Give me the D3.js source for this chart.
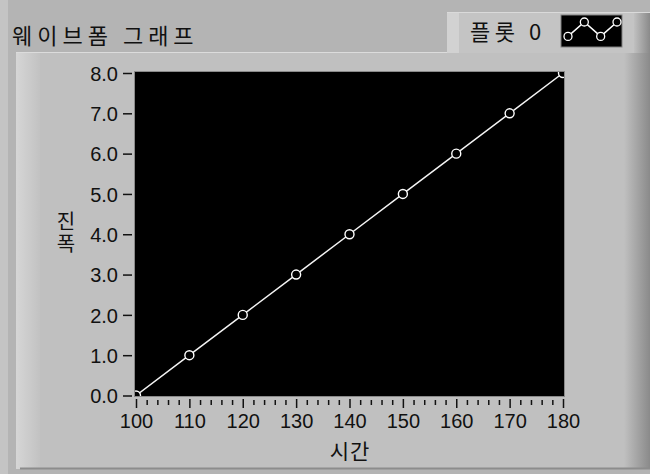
<!DOCTYPE html>
<html>
<head>
<meta charset="utf-8">
<script src="https://cdn.jsdelivr.net/npm/d3@7"></script>
<style>
  body { margin: 0; background: #b4b4b4; }
  svg { display: block; }
</style>
</head>
<body>
<script>
var W = 650, H = 474;

var times = [100, 110, 120, 130, 140, 150, 160, 170, 180];
var amplitudes = [0, 1, 2, 3, 4, 5, 6, 7, 8];
var xTickLabels = ["100", "110", "120", "130", "140", "150", "160", "170", "180"];
var yTickLabels = ["0.0", "1.0", "2.0", "3.0", "4.0", "5.0", "6.0", "7.0", "8.0"];
var legendPoints = [[0, 0.2], [1, 1], [2, 0.2], [3, 1]];

var plot = {left: 135, top: 72, right: 564, bottom: 396};

var krFont = "'Noto Sans CJK KR', sans-serif",
    numFont = "'Liberation Sans', Arial, sans-serif";

var svg = d3.select("body").append("svg")
    .attr("width", W)
    .attr("height", H);

var defs = svg.append("defs");

var rightGrad = defs.append("linearGradient").attr("id", "rightShade")
    .attr("x1", 0).attr("x2", 1).attr("y1", 0).attr("y2", 0);
rightGrad.append("stop").attr("offset", 0).attr("stop-color", "#c0c0c0");
rightGrad.append("stop").attr("offset", 1).attr("stop-color", "#8a8a8a");

var leftGrad = defs.append("linearGradient").attr("id", "leftShade")
    .attr("x1", 0).attr("x2", 1).attr("y1", 0).attr("y2", 0);
leftGrad.append("stop").attr("offset", 0).attr("stop-color", "#d6d6d6");
leftGrad.append("stop").attr("offset", 1).attr("stop-color", "#c2c2c2");

defs.append("clipPath").attr("id", "plotClip")
    .append("rect")
    .attr("x", plot.left).attr("y", plot.top)
    .attr("width", plot.right - plot.left)
    .attr("height", plot.bottom - plot.top);

// background / frame
svg.append("rect")
    .attr("x", 0).attr("y", 0).attr("width", W).attr("height", H)
    .attr("fill", "#b4b4b4");
svg.append("rect")
    .attr("x", 0).attr("y", 0).attr("width", 8).attr("height", H)
    .attr("fill", "#c4c4c4");

// graph body panel
svg.append("rect")
    .attr("x", 16).attr("y", 52).attr("width", W - 16).attr("height", 417)
    .attr("fill", "#c0c0c0");
svg.append("rect")
    .attr("x", 16).attr("y", 52).attr("width", 24).attr("height", 417)
    .attr("fill", "url(#leftShade)");
svg.append("rect")
    .attr("x", 624).attr("y", 52).attr("width", 26).attr("height", 417)
    .attr("fill", "url(#rightShade)");
svg.append("line")
    .attr("x1", 16).attr("x2", W).attr("y1", 52.5).attr("y2", 52.5)
    .attr("stroke", "#dcdcdc").attr("stroke-width", 1);
svg.append("line")
    .attr("x1", 20).attr("x2", W).attr("y1", 468.5).attr("y2", 468.5)
    .attr("stroke", "#8c8c8c").attr("stroke-width", 2);

// title
svg.append("text")
    .attr("x", 12).attr("y", 44)
    .attr("font-family", krFont)
    .attr("font-size", 22)
    .attr("letter-spacing", 5)
    .attr("fill", "#111")
    .text("웨이브폼 그래프");

// legend
var legend = svg.append("g");
legend.append("rect")
    .attr("x", 447).attr("y", 12).attr("width", 190).attr("height", 41)
    .attr("fill", "#c4c4c4");
legend.append("rect")
    .attr("x", 447).attr("y", 12).attr("width", 12).attr("height", 41)
    .attr("fill", "#d2d2d2");
legend.append("rect")
    .attr("x", 634).attr("y", 12).attr("width", 16).attr("height", 41)
    .attr("fill", "url(#rightShade)");
legend.append("line")
    .attr("x1", 447).attr("x2", 650).attr("y1", 12.5).attr("y2", 12.5)
    .attr("stroke", "#dadada");
legend.append("text")
    .attr("x", 470).attr("y", 40)
    .attr("font-family", krFont)
    .attr("font-size", 22)
    .attr("letter-spacing", 4.5)
    .attr("fill", "#111")
    .text("플롯 0");

var swatch = {x: 561, y: 15, w: 61, h: 32};
legend.append("rect")
    .attr("x", swatch.x).attr("y", swatch.y)
    .attr("width", swatch.w).attr("height", swatch.h)
    .attr("fill", "#000")
    .attr("stroke", "#808080");
var lx = d3.scaleLinear().domain([0, 3]).range([swatch.x + 7, swatch.x + swatch.w - 5]),
    ly = d3.scaleLinear().domain([0, 1]).range([swatch.y + swatch.h - 7, swatch.y + 7]);
legend.append("path")
    .datum(legendPoints)
    .attr("d", d3.line().x(function(d) { return lx(d[0]); }).y(function(d) { return ly(d[1]); }))
    .attr("fill", "none").attr("stroke", "#fff").attr("stroke-width", 1.5);
legend.selectAll("circle")
    .data(legendPoints)
    .enter().append("circle")
    .attr("cx", function(d) { return lx(d[0]); })
    .attr("cy", function(d) { return ly(d[1]); })
    .attr("r", 4)
    .attr("fill", "#000").attr("stroke", "#fff").attr("stroke-width", 1.3);

// scales
var x = d3.scaleLinear().domain([100, 180]).range([plot.left + 1, plot.right - 1]),
    y = d3.scaleLinear().domain([0, 8]).range([plot.bottom - 0.5, plot.top + 1]);

// plot area
svg.append("rect")
    .attr("x", plot.left - 0.5).attr("y", plot.top - 0.5)
    .attr("width", plot.right - plot.left + 1)
    .attr("height", plot.bottom - plot.top + 1)
    .attr("fill", "#000")
    .attr("stroke", "#8a8a8a").attr("stroke-width", 1);

var plotG = svg.append("g").attr("clip-path", "url(#plotClip)");
var data = times.map(function(t, i) { return {t: t, a: amplitudes[i]}; });

plotG.append("path")
    .datum(data)
    .attr("d", d3.line().x(function(d) { return x(d.t); }).y(function(d) { return y(d.a); }))
    .attr("fill", "none")
    .attr("stroke", "#f4f4f4")
    .attr("stroke-width", 1.5);

plotG.selectAll("circle")
    .data(data)
    .enter().append("circle")
    .attr("cx", function(d) { return x(d.t); })
    .attr("cy", function(d) { return y(d.a); })
    .attr("r", 4.5)
    .attr("fill", "#000")
    .attr("stroke", "#fff")
    .attr("stroke-width", 1.4);

// x axis
var xAxis = d3.axisBottom(x)
    .tickValues(d3.range(100, 181, 2))
    .tickSize(0)
    .tickFormat(function(d) { return d % 10 === 0 ? xTickLabels[(d - 100) / 10] : ""; });

var xg = svg.append("g")
    .attr("transform", "translate(0," + (plot.bottom + 3) + ")")
    .call(xAxis);
xg.select(".domain").remove();
xg.selectAll(".tick line")
    .attr("stroke", "#111")
    .attr("stroke-width", 1.5)
    .attr("y1", function(d) { return d % 10 === 0 ? 0 : 1; })
    .attr("y2", function(d) { return d % 10 === 0 ? 9 : 6; });
xg.selectAll(".tick text")
    .attr("y", 15)
    .attr("dy", "0.71em")
    .attr("font-family", numFont)
    .attr("font-size", 20)
    .attr("fill", "#111");

svg.append("text")
    .attr("x", 350).attr("y", 459)
    .attr("text-anchor", "middle")
    .attr("font-family", krFont)
    .attr("font-size", 21)
    .attr("letter-spacing", 1)
    .attr("fill", "#111")
    .text("시간");

// y axis
var yAxis = d3.axisLeft(y)
    .tickValues(amplitudes)
    .tickSize(0)
    .tickFormat(function(d, i) { return yTickLabels[i]; });

var yg = svg.append("g")
    .attr("transform", "translate(" + (plot.left - 3) + ",0)")
    .call(yAxis);
yg.select(".domain").remove();
yg.selectAll(".tick line")
    .attr("stroke", "#111")
    .attr("stroke-width", 1.5)
    .attr("x1", 0)
    .attr("x2", -9);
yg.selectAll(".tick text")
    .attr("x", -14)
    .attr("dy", "0.36em")
    .attr("font-family", numFont)
    .attr("font-size", 20)
    .attr("fill", "#111");

// y label, written vertically with upright characters
svg.append("text")
    .attr("x", 66).attr("y", 211)
    .attr("font-family", krFont)
    .attr("font-size", 20)
    .attr("letter-spacing", 2)
    .attr("fill", "#111")
    .style("writing-mode", "vertical-rl")
    .style("text-orientation", "upright")
    .text("진폭");
</script>
</body>
</html>
